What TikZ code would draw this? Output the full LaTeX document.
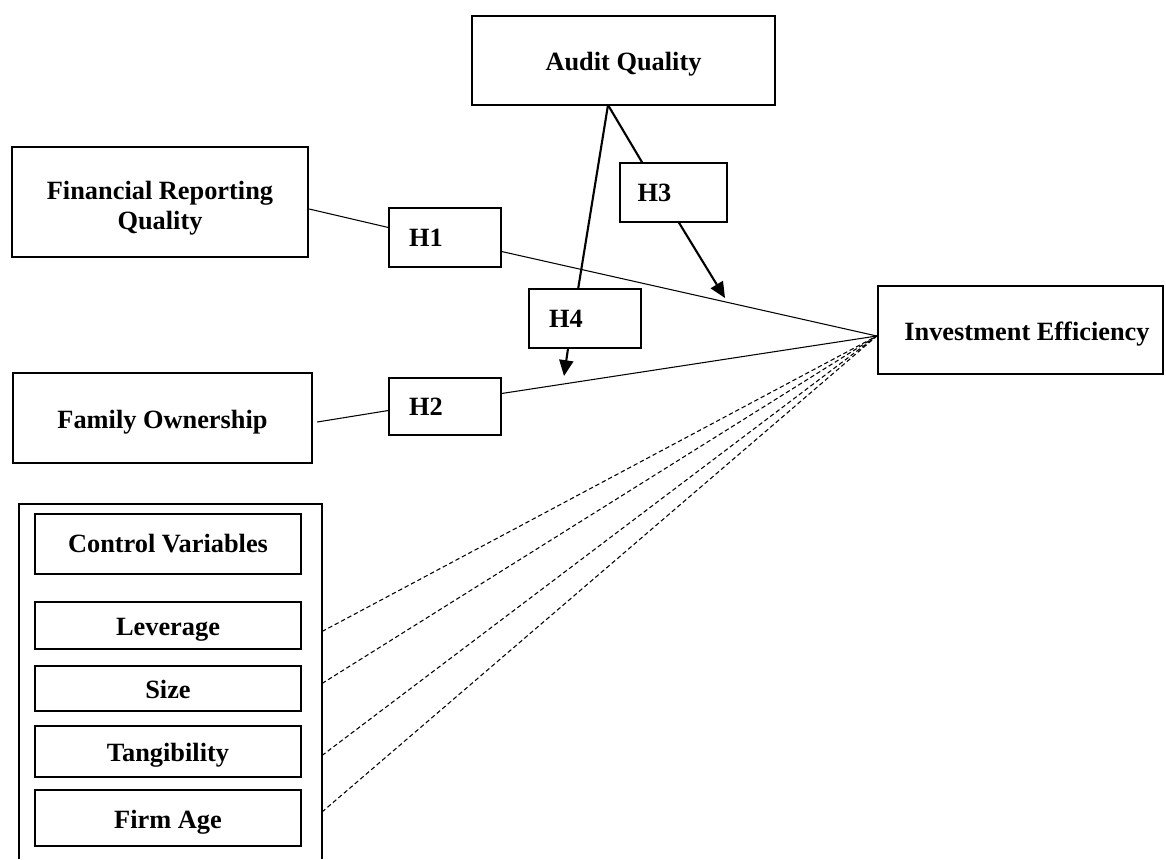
\documentclass[tikz,border=0pt]{standalone}
\usepackage{fontspec}
\setmainfont{Liberation Serif}
\usetikzlibrary{arrows.meta,calc}
\tikzset{
  mainbox/.style={draw,line width=1.4pt,inner sep=0pt,align=center,
    font=\bfseries\fontsize{15}{17}\selectfont},
  varbox/.style={mainbox,text height=0.55cm,text depth=0.15cm},
  thinbox/.style={mainbox,line width=0.7pt},
  hbox/.style={thinbox,minimum width=2.24cm,minimum height=1.18cm,
    text width=1.44cm,align=left},
  link/.style={line width=0.6pt},
  modline/.style={line width=1.2pt},
  modarrow/.style={modline,-{Triangle[length=9pt,width=8pt]}},
  dashline/.style={line width=0.6pt,dash pattern=on 2.5pt off 1.6pt}
}
\begin{document}
\begin{tikzpicture}[x={(0.02cm,0)},y={(0,-0.02cm)}]
      \useasboundingbox (0,0) rectangle (1166,859);

      % main variables
      \node[varbox,minimum width=6.06cm,minimum height=1.78cm] (aq) at (623.5,60.5) {Audit Quality};
      \node[mainbox,minimum width=5.92cm,minimum height=2.2cm] (frq) at (160,202) {\rule{0pt}{0.6cm}Financial Reporting\\Quality};
      \node[varbox,minimum width=5.98cm,minimum height=1.8cm] (fo) at (162.5,418) {Family Ownership};
      \node[varbox,minimum width=5.7cm,minimum height=1.76cm] (ie) at (1020.5,330) {\hspace*{0.26cm}Investment Efficiency};

      % hypotheses
      \node[hbox] (h1) at (445,237.5) {H1};
      \node[hbox,minimum height=1.14cm] (h2) at (445,406.5) {H2};
      \node[hbox,minimum width=2.14cm] (h3) at (673.5,192.5) {H3};
      \node[hbox] (h4) at (585,318.5) {H4};

      % control variables
      \draw[line width=1.4pt] (19,859) -- (19,504) -- (322,504) -- (322,859);
      \coordinate (cvR) at (322,504);
      \node[thinbox,minimum width=5.32cm,minimum height=1.2cm] (cv) at (168,544) {Control Variables};
      \node[varbox,minimum width=5.32cm,minimum height=0.94cm] (lev) at (168,625.5) {Leverage};
      \node[varbox,minimum width=5.32cm,minimum height=0.9cm] (size) at (168,688.5) {Size};
      \node[varbox,minimum width=5.32cm,minimum height=1.02cm] (tang) at (168,751.5) {Tangibility};
      \node[varbox,minimum width=5.32cm,minimum height=1.12cm] (age) at (168,818) {Firm Age};

      \coordinate (apex) at (608,105);
      \coordinate (tipA) at (725,298);
      \coordinate (tipB) at (564,376);
      \coordinate (iein) at ($(ie.west)+(0,6)$);

      % direct paths
      \draw[link] ($(frq.east)+(0,7)$) -- ($(h1.west)+(0,-10)$);
      \draw[link] ($(h1.east)+(0,14)$) -- (iein);
      \draw[link] ($(fo.east)+(4,4)$) -- ($(h2.west)+(0,4)$);
      \draw[link] ($(h2.east)+(0,-13)$) -- (iein);

      % moderation
      \draw[modline] (apex) -- ($(h3.north west)!0.21!(h3.north east)$);
      \draw[modarrow] ($(h3.south west)!0.55!(h3.south east)$) -- (tipA);
      \draw[modline] (apex) -- ($(h4.north west)!0.44!(h4.north east)$);
      \draw[modarrow] ($(h4.south west)!0.35!(h4.south east)$) -- (tipB);

      % controls
      \foreach \v/\d in {lev/6,size/-5,tang/4,age/-6}
        \draw[dashline] ($(cvR |- \v)+(0,\d)$) -- (iein);
    \end{tikzpicture}
\end{document}
